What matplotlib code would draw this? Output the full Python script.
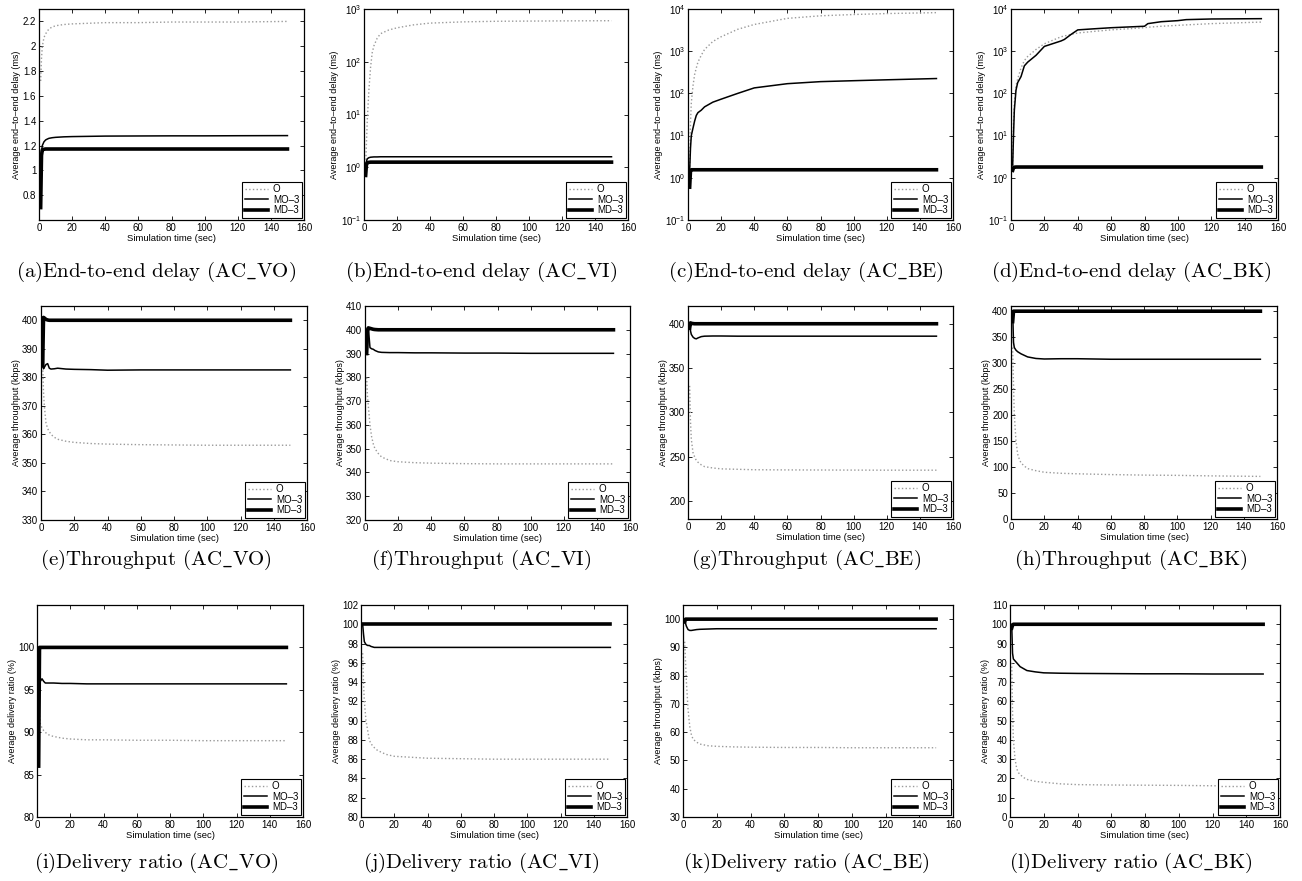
import matplotlib
matplotlib.use("Agg")
import matplotlib.pyplot as plt
from matplotlib.ticker import FixedLocator, NullLocator, FuncFormatter

# === Data ===
# common sampling times (sec)
T = [1, 1.5, 2, 3, 4, 5, 6, 8, 10, 15, 20, 30, 40, 60, 80, 100, 120, 150]
# panel (d) has a few extra steps
T_D = [1, 1.5, 2, 3, 4, 6, 8, 10, 15, 20, 30, 32, 36, 40, 50, 60, 80, 82, 90, 100, 105, 120, 150]

# (a) end-to-end delay, AC_VO (ms)
a_o = [1.72, 1.9, 2.0, 2.07, 2.1, 2.12, 2.14, 2.155, 2.165, 2.175, 2.18, 2.185, 2.19, 2.19, 2.195, 2.195, 2.195, 2.2]
a_mo = [0.7, 1.15, 1.2, 1.23, 1.245, 1.252, 1.258, 1.263, 1.266, 1.27, 1.272, 1.274, 1.276, 1.277, 1.278, 1.278, 1.279, 1.28]
a_md = [0.7, 1.12, 1.165, 1.17, 1.172, 1.172, 1.172, 1.172, 1.172, 1.172, 1.172, 1.172, 1.172, 1.172, 1.172, 1.172, 1.172, 1.172]

# (b) end-to-end delay, AC_VI (ms)
b_o = [1.0, 3, 8, 30, 80, 150, 200, 280, 340, 400, 440, 500, 540, 570, 585, 590, 595, 600]
b_mo = [0.8, 1.3, 1.45, 1.52, 1.55, 1.56, 1.57, 1.57, 1.58, 1.58, 1.58, 1.58, 1.58, 1.58, 1.58, 1.58, 1.58, 1.58]
b_md = [0.7, 1.15, 1.22, 1.24, 1.25, 1.25, 1.25, 1.25, 1.25, 1.25, 1.25, 1.25, 1.25, 1.25, 1.25, 1.25, 1.25, 1.25]

# (c) end-to-end delay, AC_BE (ms)
c_o = [1.5, 20, 60, 150, 280, 400, 550, 800, 1100, 1700, 2200, 3300, 4300, 6000, 6900, 7400, 7800, 8200]
c_mo = [1.5, 5, 10, 15, 22, 30, 35, 40, 48, 62, 73, 100, 135, 170, 190, 200, 210, 225]
c_md = [0.6, 1.5, 1.55, 1.55, 1.55, 1.55, 1.55, 1.55, 1.55, 1.55, 1.55, 1.55, 1.55, 1.55, 1.55, 1.55, 1.55, 1.55]

# (d) end-to-end delay, AC_BK (ms)
d_o = [2, 20, 60, 150, 220, 400, 600, 750, 1100, 1500, 2200, 2300, 2500, 2700, 2950, 3200, 3600, 3700, 3900, 4100, 4200, 4500, 4900]
d_mo = [2, 10, 40, 120, 180, 250, 450, 550, 800, 1300, 1750, 1900, 2500, 3200, 3400, 3600, 3900, 4500, 5000, 5300, 5600, 5800, 5900]
d_md = [1.5, 1.75, 1.78, 1.8, 1.8, 1.8, 1.8, 1.8, 1.8, 1.8, 1.8, 1.8, 1.8, 1.8, 1.8, 1.8, 1.8, 1.8, 1.8, 1.8, 1.8, 1.8, 1.8]

# (e) throughput, AC_VO (kbps)
e_o = [385, 375, 370, 364, 362, 361, 360, 359, 358.3, 357.6, 357.2, 356.8, 356.6, 356.4, 356.3, 356.2, 356.2, 356.2]
e_mo = [401, 383, 383.5, 384.5, 384.8, 383.2, 382.9, 383.0, 383.2, 382.9, 382.8, 382.7, 382.5, 382.6, 382.6, 382.6, 382.6, 382.6]
e_md = [384, 401, 400.8, 400.3, 400.1, 400, 400, 400, 400, 400, 400, 400, 400, 400, 400, 400, 400, 400]

# (f) throughput, AC_VI (kbps)
f_o = [380, 372, 368, 360, 355, 352, 350, 348, 346.5, 345, 344.5, 344.1, 343.9, 343.7, 343.6, 343.6, 343.6, 343.6]
f_mo = [390, 395, 401, 392.5, 392, 391.8, 391.3, 390.7, 390.5, 390.4, 390.4, 390.3, 390.3, 390.2, 390.2, 390.1, 390.1, 390.1]
f_md = [390, 400, 400.8, 400.6, 400.4, 400.2, 400.1, 400, 400, 400, 400, 400, 400, 400, 400, 400, 400, 400]

# (g) throughput, AC_BE (kbps)
g_o = [330, 290, 270, 255, 250, 246, 244, 241, 239, 237.5, 236.5, 236, 235.5, 235.3, 235.2, 235.1, 235, 235]
g_mo = [400, 392, 388, 385, 383.5, 383, 384, 385.5, 386, 386.2, 386.2, 386, 386, 386, 386, 386, 386, 386]
g_md = [395, 401, 400.5, 400.2, 400, 400, 400, 400, 400, 400, 400, 400, 400, 400, 400, 400, 400, 400]

# (h) throughput, AC_BK (kbps)
h_o = [330, 260, 200, 150, 125, 115, 108, 102, 97, 93, 90, 88, 87, 85.5, 84.5, 84, 83, 82]
h_mo = [400, 340, 330, 325, 322, 320, 318, 315, 312, 309, 308, 308.5, 308.5, 307.5, 307.5, 307.5, 307.5, 307.5]
h_md = [380, 400, 400, 400, 400, 400, 400, 400, 400, 400, 400, 400, 400, 400, 400, 400, 400, 400]

# (i) delivery ratio, AC_VO (%)
i_o = [95, 92, 91, 90.5, 90.2, 90, 89.8, 89.6, 89.5, 89.3, 89.2, 89.1, 89.1, 89.05, 89.05, 89.0, 89.0, 89.0]
i_mo = [99, 97, 96, 96.3, 96.0, 95.8, 95.8, 95.8, 95.8, 95.75, 95.75, 95.7, 95.7, 95.7, 95.7, 95.7, 95.7, 95.7]
i_md = [86, 100, 100, 100, 100, 100, 100, 100, 100, 100, 100, 100, 100, 100, 100, 100, 100, 100]

# (j) delivery ratio, AC_VI (%)
j_o = [97, 94, 92, 90, 89, 88, 87.6, 87.2, 86.9, 86.5, 86.3, 86.2, 86.1, 86.05, 86.0, 86.0, 86.0, 86.0]
j_mo = [100, 99, 98.2, 97.9, 97.8, 97.8, 97.7, 97.6, 97.6, 97.6, 97.6, 97.6, 97.6, 97.6, 97.6, 97.6, 97.6, 97.6]
j_md = [100, 100, 100, 100, 100, 100, 100, 100, 100, 100, 100, 100, 100, 100, 100, 100, 100, 100]

# (k) delivery ratio, AC_BE (axis labelled kbps in the source)
k_o = [92, 85, 78, 68, 62, 59, 57.5, 56.5, 55.8, 55.2, 55, 54.8, 54.7, 54.6, 54.6, 54.5, 54.5, 54.5]
k_mo = [100, 98.5, 97.5, 96.3, 96, 96, 96.1, 96.3, 96.4, 96.5, 96.6, 96.6, 96.6, 96.6, 96.6, 96.6, 96.6, 96.6]
k_md = [99, 100, 100, 100, 100, 100, 100, 100, 100, 100, 100, 100, 100, 100, 100, 100, 100, 100]

# (l) delivery ratio, AC_BK (%)
l_o = [80, 55, 40, 30, 25, 23, 22, 20.5, 19.5, 18.5, 18, 17.2, 16.8, 16.6, 16.5, 16.4, 16.2, 16]
l_mo = [100, 85, 82, 81, 80, 79, 78, 77, 76, 75.3, 74.8, 74.6, 74.5, 74.4, 74.3, 74.3, 74.2, 74.2]
l_md = [98, 99.5, 100, 100, 100, 100, 100, 100, 100, 100, 100, 100, 100, 100, 100, 100, 100, 100]

SERIES_LABELS = ["O", "MO\u20133", "MD\u20133"]
X_TICKS = [0, 20, 40, 60, 80, 100, 120, 140, 160]

YL_DELAY = "Average end\u2013to\u2013end delay (ms)"
YL_THR = "Average throughput (kbps)"
YL_DR = "Average delivery ratio (%)"

# underscore drawn through mathtext (cmr10 has no plain underscore glyph)
CAPTIONS = [
    r"(a)End-to-end delay (AC$\_$VO)", r"(b)End-to-end delay (AC$\_$VI)",
    r"(c)End-to-end delay (AC$\_$BE)", r"(d)End-to-end delay (AC$\_$BK)",
    r"(e)Throughput (AC$\_$VO)", r"(f)Throughput (AC$\_$VI)",
    r"(g)Throughput (AC$\_$BE)", r"(h)Throughput (AC$\_$BK)",
    r"(i)Delivery ratio (AC$\_$VO)", r"(j)Delivery ratio (AC$\_$VI)",
    r"(k)Delivery ratio (AC$\_$BE)", r"(l)Delivery ratio (AC$\_$BK)",
]

# panel specs: time, series, ylabel, log?, ylim, yticks
PANELS = [
    (T, (a_o, a_mo, a_md), YL_DELAY, False, (0.6, 2.3), [0.8, 1.0, 1.2, 1.4, 1.6, 1.8, 2.0, 2.2]),
    (T, (b_o, b_mo, b_md), YL_DELAY, True, (0.1, 1000), [0.1, 1, 10, 100, 1000]),
    (T, (c_o, c_mo, c_md), YL_DELAY, True, (0.1, 10000), [0.1, 1, 10, 100, 1000, 10000]),
    (T_D, (d_o, d_mo, d_md), YL_DELAY, True, (0.1, 10000), [0.1, 1, 10, 100, 1000, 10000]),
    (T, (e_o, e_mo, e_md), YL_THR, False, (330, 405), list(range(330, 401, 10))),
    (T, (f_o, f_mo, f_md), YL_THR, False, (320, 410), list(range(320, 411, 10))),
    (T, (g_o, g_mo, g_md), YL_THR, False, (180, 420), list(range(200, 401, 50))),
    (T, (h_o, h_mo, h_md), YL_THR, False, (0, 410), list(range(0, 401, 50))),
    (T, (i_o, i_mo, i_md), YL_DR, False, (80, 105), list(range(80, 101, 5))),
    (T, (j_o, j_mo, j_md), YL_DR, False, (80, 102), list(range(80, 103, 2))),
    (T, (k_o, k_mo, k_md), YL_THR, False, (30, 105), list(range(30, 101, 10))),
    (T, (l_o, l_mo, l_md), YL_DR, False, (0, 110), list(range(0, 111, 10))),
]

# axes boxes in pixels: left, right, top, bottom
BOXES = [
    (39, 304, 9, 220), (364, 628, 9, 220), (688, 953, 9, 220), (1011, 1278, 9, 220),
    (41, 307, 306, 520), (365, 630, 306, 520), (688, 953, 306, 519), (1011, 1277, 306, 519),
    (37, 303, 605, 817), (361, 627, 605, 817), (683, 953, 605, 817), (1010, 1280, 605, 817),
]
CAPTION_Y = [272, 560, 863]

W, H = 1302, 881
STYLES = [
    dict(color="#9a9a9a", linestyle=":", linewidth=1.0),
    dict(color="black", linestyle="-", linewidth=1.1),
    dict(color="black", linestyle="-", linewidth=2.6),
]

plt.rcParams["font.family"] = ["Liberation Sans", "DejaVu Sans"]
plt.rcParams["mathtext.fontset"] = "custom"
plt.rcParams["mathtext.rm"] = "Liberation Sans"

fig = plt.figure(figsize=(W / 100, H / 100), dpi=100)

for idx, (t, series, ylabel, logy, ylim, yticks) in enumerate(PANELS):
    l, r, top, bot = BOXES[idx]
    ax = fig.add_axes([l / W, 1 - bot / H, (r - l) / W, (bot - top) / H])
    for ys, st, lab in zip(series, STYLES, SERIES_LABELS):
        ax.plot(t, ys, label=lab, **st)
    ax.set_xlim(0, 160)
    ax.xaxis.set_major_locator(FixedLocator(X_TICKS))
    if logy:
        ax.set_yscale("log")
        ax.yaxis.set_minor_locator(NullLocator())
    ax.set_ylim(*ylim)
    ax.yaxis.set_major_locator(FixedLocator(yticks))
    if not logy:
        ax.yaxis.set_major_formatter(FuncFormatter(lambda v, p: f"{v:g}"))
    ax.tick_params(direction="in", top=True, right=True, length=3, width=0.6,
                   labelsize=7, pad=2, colors="black")
    for sp in ax.spines.values():
        sp.set_linewidth(0.9)
    ax.set_xlabel("Simulation time (sec)", fontsize=6.8, labelpad=1)
    ax.set_ylabel(ylabel, fontsize=6.5, labelpad=1)
    leg = ax.legend(loc="lower right", fontsize=7, fancybox=False, framealpha=1,
                    edgecolor="black", borderaxespad=0.25, handlelength=2.4,
                    labelspacing=0.05, borderpad=0.25, handletextpad=0.5)
    leg.get_frame().set_linewidth(0.8)

    row, col = divmod(idx, 4)
    fig.text((156 + 325 * col) / W, 1 - CAPTION_Y[row] / H, CAPTIONS[idx],
             ha="center", va="center", fontsize=15,
             family=["cmr10", "DejaVu Serif"], math_fontfamily="cm")

fig.savefig("out.png", dpi=100)
